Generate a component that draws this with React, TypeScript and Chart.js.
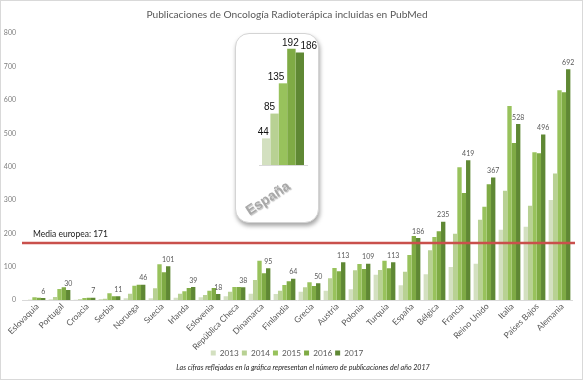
import React, { useEffect, useRef } from "react";
import { Chart, registerables } from "chart.js";

Chart.register(...registerables);

const countries = [
  "Eslovaquia", "Portugal", "Croacia", "Serbia", "Noruega", "Suecia", "Irlanda", "Eslovenia",
  "República Checa", "Dinamarca", "Finlandia", "Grecia", "Austria", "Polonia", "Turquia",
  "España", "Bélgica", "Francia", "Reino Unido", "Italia", "Países Bajos", "Alemania",
];
const years = ["2013", "2014", "2015", "2016", "2017"];
const d2013 = [0, 2, 1, 3, 5, 5, 7, 8, 11, 19, 18, 25, 28, 32, 76, 44, 77, 99, 109, 211, 220, 300];
const d2014 = [1, 9, 2, 4, 19, 35, 19, 15, 25, 60, 28, 38, 65, 89, 90, 85, 149, 199, 241, 328, 283, 379];
const d2015 = [8, 33, 6, 20, 43, 107, 26, 28, 39, 118, 45, 53, 96, 108, 118, 135, 189, 398, 280, 582, 443, 629];
const d2016 = [7, 38, 7, 11, 46, 83, 36, 36, 39, 80, 56, 42, 86, 93, 95, 192, 206, 321, 347, 471, 440, 623];
const d2017 = [6, 30, 7, 11, 46, 101, 39, 18, 38, 95, 64, 50, 113, 109, 113, 186, 235, 419, 367, 528, 496, 692];
const seriesValues = [d2013, d2014, d2015, d2016, d2017];
const colors = ["#d3e0c0", "#b8d193", "#98c25c", "#7fab45", "#5f8834"];
const europeanMean = 171;
const meanLabel = "Media europea: 171";
const yTicksMax = 800;
const insetCountry = "España";
const insetValues = [44, 85, 135, 192, 186];
const insetLabelShift = [-3, -5, -7, -1, 9];
const titleText = "Publicaciones de Oncología Radioterápica incluidas en PubMed";
const footnote = "Las cifras reflejadas en la gráfica representan el número de publicaciones del año 2017";

const mainFont = "Lato, 'Open Sans', sans-serif";
const arialFont = "'Liberation Sans', Arial, sans-serif";

const lastLabelsPlugin = {
  id: "lastLabels",
  afterDatasetsDraw(chart: any) {
    const ctx = chart.ctx;
    const idx = chart.data.datasets.length - 1;
    const meta = chart.getDatasetMeta(idx);
    ctx.save();
    ctx.font = `7px ${mainFont}`;
    ctx.fillStyle = "#595959";
    ctx.textAlign = "center";
    ctx.textBaseline = "bottom";
    meta.data.forEach((bar: any, i: number) => {
      ctx.fillText(String(chart.data.datasets[idx].data[i]), bar.x, bar.y - 3);
    });
    ctx.restore();
  },
};

const xLabelsPlugin = {
  id: "xLabels",
  afterDraw(chart: any) {
    const ctx = chart.ctx;
    const sx = chart.scales.x;
    ctx.save();
    ctx.font = `8.5px ${mainFont}`;
    ctx.fillStyle = "#595959";
    ctx.textAlign = "right";
    ctx.textBaseline = "middle";
    chart.data.labels.forEach((lab: string, i: number) => {
      const x = sx.getPixelForValue(i);
      ctx.save();
      ctx.translate(x + 3, sx.top + 5);
      ctx.rotate(-Math.PI / 4);
      ctx.fillText(lab, 0, 0);
      ctx.restore();
    });
    ctx.font = `italic 7.1px ${mainFont}`;
    ctx.fillStyle = "#262626";
    ctx.textAlign = "center";
    ctx.textBaseline = "middle";
    const ca = chart.chartArea;
    ctx.fillText(footnote, (ca.left + ca.right) / 2 + 6, chart.height - 12);
    ctx.restore();
  },
};

const meanLinePlugin = {
  id: "meanLine",
  afterDatasetsDraw(chart: any) {
    const ctx = chart.ctx;
    const y = chart.scales.y.getPixelForValue(europeanMean);
    const { left, right } = chart.chartArea;
    ctx.save();
    ctx.strokeStyle = "#c9504c";
    ctx.lineWidth = 2.5;
    ctx.beginPath();
    ctx.moveTo(left, y);
    ctx.lineTo(right + 3, y);
    ctx.stroke();
    ctx.font = `8.5px ${mainFont}`;
    ctx.fillStyle = "#1a1a1a";
    ctx.textAlign = "left";
    ctx.textBaseline = "bottom";
    ctx.fillText(meanLabel, left + 11, y - 4);
    ctx.restore();
  },
};

const insetLabelsPlugin = {
  id: "insetLabels",
  afterDatasetsDraw(chart: any) {
    const ctx = chart.ctx;
    ctx.save();
    ctx.font = `10px ${arialFont}`;
    ctx.fillStyle = "#111111";
    ctx.textAlign = "center";
    ctx.textBaseline = "bottom";
    chart.data.datasets.forEach((ds: any, di: number) => {
      const meta = chart.getDatasetMeta(di);
      meta.data.forEach((bar: any, i: number) => {
        ctx.fillText(String(ds.data[i]), bar.x + insetLabelShift[di], bar.y - 1);
      });
    });
    const sx = chart.scales.x;
    ctx.font = `bold 14px ${arialFont}`;
    ctx.fillStyle = "#a8a8a8";
    ctx.textAlign = "right";
    ctx.textBaseline = "middle";
    ctx.shadowColor = "rgba(0,0,0,0.25)";
    ctx.shadowOffsetX = 1;
    ctx.shadowOffsetY = 1;
    ctx.shadowBlur = 1;
    chart.data.labels.forEach((lab: string, i: number) => {
      ctx.save();
      ctx.translate(sx.getPixelForValue(i) + 6, sx.top + 20);
      ctx.rotate(-0.58);
      ctx.fillText(lab, 0, 0);
      ctx.restore();
    });
    ctx.restore();
  },
};

export default function App() {
  const mainRef = useRef<HTMLCanvasElement | null>(null);
  const insetRef = useRef<HTMLCanvasElement | null>(null);

  useEffect(() => {
    const main = new Chart(mainRef.current as HTMLCanvasElement, {
      type: "bar",
      data: {
        labels: countries,
        datasets: years.map((yr, i) => ({
          label: yr,
          data: seriesValues[i],
          backgroundColor: colors[i],
          borderWidth: 0,
          categoryPercentage: 0.87,
          barPercentage: 1,
        })),
      },
      options: {
        responsive: false,
        animation: false,
        layout: { padding: { left: 2, right: 11, top: 0, bottom: 12.9 } },
        plugins: {
          tooltip: { enabled: false },
          title: {
            display: true,
            text: titleText,
            color: "#595959",
            font: { family: mainFont, size: 10.2, weight: "normal" },
            padding: { top: 9, bottom: 12 },
          },
          legend: {
            position: "bottom",
            title: { display: true, text: " ", font: { size: 1 }, padding: { top: 0, bottom: 5 } },
            labels: {
              boxWidth: 5,
              boxHeight: 5,
              padding: 3,
              color: "#595959",
              font: { family: mainFont, size: 8.2 },
            },
          },
        },
        scales: {
          x: {
            grid: { display: false, drawTicks: false },
            border: { display: true, color: "#d9d9d9" },
            ticks: { display: false },
            afterFit: (scale: any) => {
              scale.height = 39.7;
            },
          },
          y: {
            min: 0,
            max: yTicksMax,
            grid: { display: false, drawTicks: false },
            border: { display: false },
            ticks: {
              stepSize: 100,
              padding: 6,
              color: "#7f7f7f",
              font: { family: mainFont, size: 7 },
            },
            afterFit: (scale: any) => {
              scale.width = 20;
            },
          },
        },
      },
      plugins: [lastLabelsPlugin, meanLinePlugin, xLabelsPlugin],
    } as any);

    const inset = new Chart(insetRef.current as HTMLCanvasElement, {
      type: "bar",
      data: {
        labels: [insetCountry],
        datasets: years.map((yr, i) => ({
          label: yr,
          data: [insetValues[i]],
          backgroundColor: colors[i],
          borderWidth: 0,
          categoryPercentage: 0.875,
          barPercentage: 1,
        })),
      },
      options: {
        responsive: false,
        animation: false,
        layout: { padding: { left: 23, right: 11, top: 10, bottom: 0 } },
        plugins: { legend: { display: false }, tooltip: { enabled: false } },
        scales: {
          x: {
            grid: { display: false, drawTicks: false },
            border: { display: true, color: "#d9d9d9" },
            ticks: { display: false },
            afterFit: (scale: any) => {
              scale.height = 57;
            },
          },
          y: { display: false, min: 0, max: 200 },
        },
      },
      plugins: [insetLabelsPlugin],
    } as any);

    return () => {
      main.destroy();
      inset.destroy();
    };
  }, []);

  return (
    <div style={{ position: "fixed", left: 0, top: 0, width: 583, height: 380, background: "#ffffff" }}>
      <canvas ref={mainRef} width={583} height={380} style={{ position: "absolute", left: 0, top: 0 }} />
      <div
        style={{
          position: "absolute",
          left: 235,
          top: 33,
          width: 82,
          height: 188,
          border: "1px solid #d4d4d4",
          borderRadius: 14,
          background: "#ffffff",
          boxShadow: "1px 3px 4px rgba(0,0,0,0.35)",
          overflow: "hidden",
        }}
      >
        <canvas ref={insetRef} width={82} height={188} style={{ display: "block" }} />
      </div>
      <div
        style={{
          position: "absolute",
          left: 0,
          top: 0,
          width: 583,
          height: 380,
          boxSizing: "border-box",
          border: "1px solid #d9d9d9",
          pointerEvents: "none",
        }}
      />
    </div>
  );
}
